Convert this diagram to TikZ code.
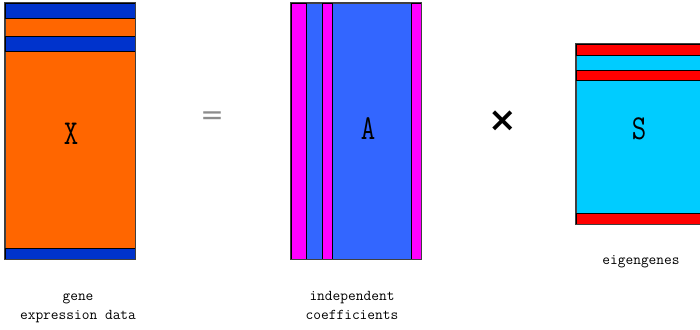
\documentclass[tikz,border=0pt]{standalone}
\usepackage{fontspec}
\newfontfamily\opfont{DejaVu Sans}

\definecolor{xorange}{HTML}{FF6600}
\definecolor{xblue}{HTML}{0033CC}
\definecolor{amagenta}{HTML}{FF00FF}
\definecolor{ablue}{HTML}{3366FF}
\definecolor{scyan}{HTML}{00CCFF}
\definecolor{sred}{HTML}{FF0000}

\begin{document}
\begin{tikzpicture}[
    x=1pt, y=-1pt,
    block/.style={draw=black!75, line width=0.8pt, inner sep=0pt},
    band/.style={draw=black, line width=0.8pt},
    letter/.style={font=\ttfamily\fontsize{28}{28}\selectfont, inner sep=0pt},
    caption/.style={font=\ttfamily\fontsize{15}{19}\selectfont, align=center, inner sep=0pt},
    op/.style={font=\opfont\fontsize{28}{28}\selectfont, inner sep=0pt},
  ]
    \clip (0,0) rectangle (700,329);

    % X: gene expression data
    \node[block, fill=xorange, minimum width=130pt, minimum height=256pt] (X) at (70,131) {};
    \foreach \ya/\yb in {3/18, 36/51, 248/259}
      \filldraw[band, fill=xblue] (5,\ya) rectangle (135,\yb);
    \draw[block] (X.north west) rectangle (X.south east);
    \node[letter] (Xname) at (71,134) {\scalebox{1}[1.25]{X}};
    \node[caption] (Xcap) at (78,308) {gene\\expression data};

    \node[op, text=black!45] (eq) at (212,118) {=};

    % A: independent coefficients
    \node[block, fill=ablue, minimum width=130pt, minimum height=256pt] (A) at (356,131) {};
    \foreach \xa/\xb in {291/306, 322/332, 411/421}
      \filldraw[band, fill=amagenta] (\xa,3) rectangle (\xb,259);
    \draw[block] (A.north west) rectangle (A.south east);
    \node[letter] (Aname) at (368,129) {\scalebox{1}[1.25]{A}};
    \node[caption] (Acap) at (352,305) {independent\\coefficients};

    \node[op, font=\opfont\bfseries\fontsize{34}{34}\selectfont] (times) at (503,121) {×};

    % S: eigengenes
    \node[block, fill=scyan, minimum width=144pt, minimum height=180pt] (S) at (648,134) {};
    \foreach \ya/\yb in {44/55, 70/80, 213/224}
      \filldraw[band, fill=sred] (576,\ya) rectangle (720,\yb);
    \draw[block] (S.north west) rectangle (S.south east);
    \node[letter] (Sname) at (639,129) {\scalebox{1}[1.25]{S}};
    \node[caption] (Scap) at (641,262) {eigengenes};
\end{tikzpicture}
\end{document}
